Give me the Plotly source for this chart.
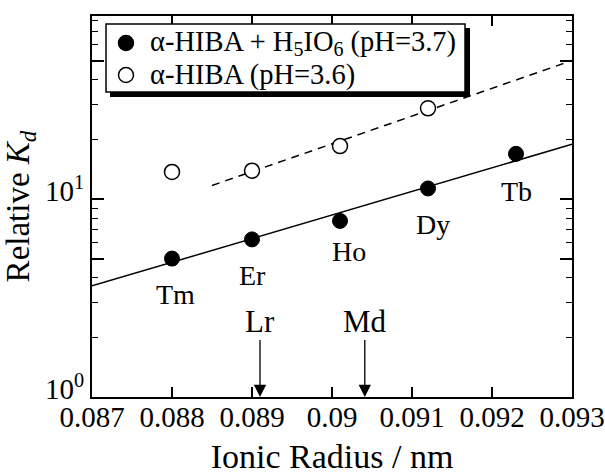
import plotly.graph_objects as go
import math

# ---- data ----
elements = ["Tm", "Er", "Ho", "Dy", "Tb"]
radius_filled = [0.0880, 0.0890, 0.0901, 0.0912, 0.0923]
kd_filled = [5.0, 6.25, 7.75, 11.3, 16.9]

radius_open = [0.0880, 0.0890, 0.0901, 0.0912]
kd_open = [13.7, 13.9, 18.5, 28.7]

fit_solid_x = [0.0870, 0.0930]
fit_solid_y = [3.64, 18.9]
fit_dash_x = [0.0885, 0.0930]
fit_dash_y = [11.7, 50.0]

actinides = ["Lr", "Md"]
actinide_radius = [0.0891, 0.09041]

series_names = ["α-HIBA + H<sub>5</sub>IO<sub>6</sub> (pH=3.7)", "α-HIBA (pH=3.6)"]

x_ticks = [0.087, 0.088, 0.089, 0.090, 0.091, 0.092, 0.093]
x_ticktext = ["0.087", "0.088", "0.089", "0.09", "0.091", "0.092", "0.093"]
y_major = [1, 5, 10, 50]
y_major_text = ["10<sup>0</sup>", "", "10<sup>1</sup>", ""]
y_minor = [2, 3, 4, 6, 7, 8, 9, 20, 30, 40, 60, 70, 80]

FONT = "Liberation Serif"

fig = go.Figure()
fig.add_trace(go.Scatter(x=fit_solid_x, y=fit_solid_y, mode="lines",
                         line=dict(color="black", width=1.5), showlegend=False))
fig.add_trace(go.Scatter(x=fit_dash_x, y=fit_dash_y, mode="lines",
                         line=dict(color="black", width=1.5, dash="8px,6px"), showlegend=False))
fig.add_trace(go.Scatter(x=radius_filled, y=kd_filled, mode="markers",
                         name=series_names[0], showlegend=False,
                         marker=dict(symbol="circle", size=15, color="black",
                                     line=dict(color="black", width=1))))
fig.add_trace(go.Scatter(x=radius_open, y=kd_open, mode="markers",
                         name=series_names[1], showlegend=False,
                         marker=dict(symbol="circle", size=15, color="white",
                                     line=dict(color="black", width=1.5))))

annotations = []
label_xshift = [3, 0, 9, 5, 0]
label_yshift = [-36, -36, -31, -36, -38]
for el, xv, yv, xs, ys in zip(elements, radius_filled, kd_filled, label_xshift, label_yshift):
    annotations.append(dict(x=xv, y=math.log10(yv), text=el, showarrow=False,
                            yshift=ys, xshift=xs,
                            font=dict(family=FONT, size=28, color="black")))
for name, xv in zip(actinides, actinide_radius):
    annotations.append(dict(x=xv, y=0, text=name, showarrow=True,
                            ax=0, ay=-76, arrowhead=2, arrowsize=1.9, arrowwidth=1.3,
                            arrowcolor="black", standoff=0, startstandoff=0,
                            font=dict(family=FONT, size=31, color="black")))

# ---- legend drawn as a framed box with a drop shadow ----
leg_rows_y = [0.9291, 0.8451]
leg_fill = ["black", "white"]
shapes = [
    dict(type="rect", xref="paper", yref="paper", x0=0.0375, x1=0.7875, y0=0.7874, y1=0.9685,
         fillcolor="black", line=dict(width=0), layer="above"),
    dict(type="rect", xref="paper", yref="paper", x0=0.0292, x1=0.7771, y0=0.8005, y1=0.979,
         fillcolor="white", line=dict(color="black", width=1.5), layer="above"),
]
for ry, fc, nm in zip(leg_rows_y, leg_fill, series_names):
    shapes.append(dict(type="circle", xref="paper", yref="paper",
                       xsizemode="pixel", ysizemode="pixel", xanchor=0.0708, yanchor=ry,
                       x0=-7.5, x1=7.5, y0=-7.5, y1=7.5,
                       fillcolor=fc, line=dict(color="black", width=1.5), layer="above"))
    annotations.append(dict(x=0.1167, y=ry, xref="paper", yref="paper", text=nm,
                            showarrow=False, xanchor="left", yanchor="middle",
                            height=30, valign="middle",
                            font=dict(family=FONT, size=28.5, color="black")))

fig.update_layout(
    width=605, height=475,
    margin=dict(l=92, r=33, t=16, b=78),
    paper_bgcolor="white", plot_bgcolor="white",
    font=dict(family=FONT, color="black", size=24),
    showlegend=False,
    annotations=annotations,
    shapes=shapes,
)
fig.update_xaxes(range=[0.087, 0.093], tickvals=x_ticks, ticktext=x_ticktext,
                 ticks="inside", ticklen=10, tickwidth=1.5, tickcolor="black",
                 showline=True, linecolor="black", linewidth=2, mirror="ticks",
                 showgrid=False, zeroline=False, automargin=False,
                 ticklabelstandoff=-7,
                 tickfont=dict(family=FONT, size=29),
                 title=dict(text="Ionic Radius / nm", font=dict(family=FONT, size=34),
                            standoff=18))
fig.update_yaxes(type="log", range=[0, 1.924], tickvals=y_major, ticktext=y_major_text,
                 ticks="inside", ticklen=12, tickwidth=1.5, tickcolor="black",
                 minor=dict(tickvals=y_minor, ticks="inside", ticklen=6, tickwidth=1.2,
                            tickcolor="black", showgrid=False),
                 showline=True, linecolor="black", linewidth=2, mirror="ticks",
                 showgrid=False, zeroline=False, automargin=False,
                 ticklabelshift=-8,
                 tickfont=dict(family=FONT, size=29),
                 title=dict(text="Relative <i>K</i><sub><i>d</i></sub>",
                            font=dict(family=FONT, size=33), standoff=6))

fig.write_html("out.html")
